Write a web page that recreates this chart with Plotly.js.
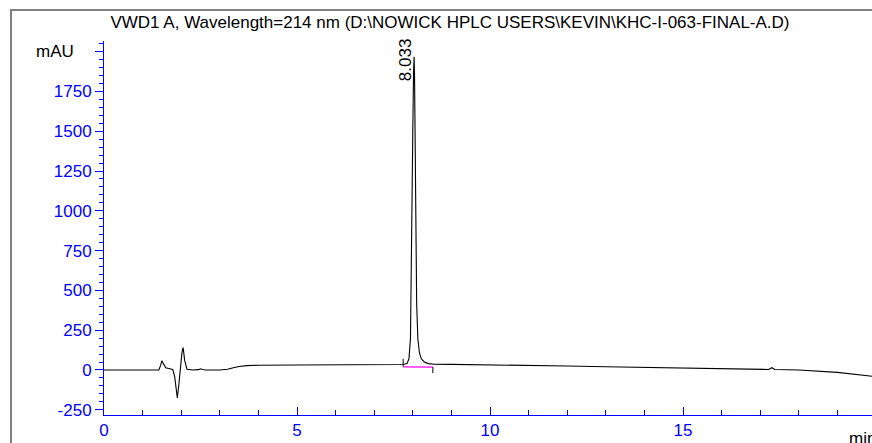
<!DOCTYPE html>
<html>
<head>
<meta charset="utf-8">
<script src="https://cdn.plot.ly/plotly-3.0.1.min.js"></script>
<style>
html,body{margin:0;padding:0;overflow:hidden;background:#fff;}
#wrap{position:relative;width:872px;height:443px;overflow:hidden;}
#frame{position:absolute;left:10px;top:9px;width:900px;height:500px;border-left:2px solid #808080;border-top:2px solid #808080;pointer-events:none;z-index:5;}
#chart{position:absolute;left:0;top:0;width:900px;height:443px;}
</style>
</head>
<body>
<div id="wrap"><div id="chart"></div><div id="frame"></div></div>
<script>
// Chromatogram signal (time in min, absorbance in mAU)
const timeMin = [0, 1.0, 1.3, 1.42, 1.47, 1.5, 1.55, 1.6, 1.7, 1.78, 1.83, 1.87, 1.9, 1.94, 1.98, 2.02, 2.05, 2.09, 2.15, 2.3, 2.45, 2.5, 2.55, 2.65, 3.0, 3.2, 3.35, 3.5, 3.7, 4.0, 5.0, 6.0, 7.0, 7.5, 7.75, 7.85, 7.9, 7.94, 7.97, 8.0, 8.02, 8.033, 8.045, 8.06, 8.08, 8.1, 8.13, 8.17, 8.22, 8.3, 8.4, 8.55, 9.0, 10, 11, 12, 13, 14, 15, 16, 17, 17.22, 17.3, 17.38, 18, 19, 20];
const signal  = [0, 0, -2, 0, 30, 58, 35, 14, 8, 3, -40, -120, -176, -90, 20, 110, 140, 60, 5, 0, 2, 7, 3, 0, 0, 4, 14, 22, 27, 30, 31, 32, 33, 33, 34, 40, 70, 200, 700, 1500, 1880, 1968, 1850, 1400, 800, 420, 200, 110, 70, 50, 40, 36, 35, 33, 30, 25, 20, 15, 11, 7, 4, 3, 14, 3, 0, -15, -42];
// Integration baseline and event marks
const baseTime = [7.75, 8.52];
const baseVal = [20, 18];
const startMarkTime = [7.75, 7.75];
const startMarkVal = [20, 70];
const endMarkTime = [8.52, 8.52];
const endMarkVal = [18, -20];
// Axis ticks
const yTickVals = [-250, 0, 250, 500, 750, 1000, 1250, 1500, 1750, 2000];
const yTickText = ['-250', '0', '250', '500', '750', '1000', '1250', '1500', '1750', ''];
const xTickVals = [0, 5, 10, 15, 20];
const xTickText = ['0', '5', '10', '15', ''];
const peakTime = 8.033;
const peakLabel = '8.033';
const yUnit = 'mAU';
const xUnit = 'min';
const titleText = 'VWD1 A, Wavelength=214 nm (D:\\NOWICK HPLC USERS\\KEVIN\\KHC-I-063-FINAL-A.D)';

const W = 900, H = 443;
const traces = [
  {x: timeMin, y: signal, mode: 'lines', line: {color: '#000', width: 1.1}, hoverinfo: 'skip'},
  {x: baseTime, y: baseVal, mode: 'lines', line: {color: '#ff00ff', width: 1.2}, hoverinfo: 'skip'},
  {x: startMarkTime, y: startMarkVal, mode: 'lines', line: {color: '#000', width: 1}, hoverinfo: 'skip'},
  {x: endMarkTime, y: endMarkVal, mode: 'lines', line: {color: '#000', width: 1}, hoverinfo: 'skip'}
];
const layout = {
  width: W, height: H,
  margin: {l: 104, r: W - 876.5, t: 41, b: 28, pad: 0},
  paper_bgcolor: '#fff', plot_bgcolor: '#fff',
  showlegend: false,
  font: {family: 'Liberation Sans, Arial, sans-serif', size: 17, color: '#0000ff'},
  title: {text: titleText, font: {size: 17, color: '#000', family: 'Liberation Sans, Arial, sans-serif'},
          xref: 'container', x: 450 / W, xanchor: 'center', yref: 'container', y: 1 - 22 / H, yanchor: 'middle'},
  xaxis: {range: [0, 20], showgrid: false, zeroline: false, showline: true, linecolor: '#0000ff', linewidth: 1,
          tickmode: 'array', tickvals: xTickVals, ticktext: xTickText, ticks: 'inside', ticklen: 8, tickcolor: '#0000ff', tickwidth: 1,
          minor: {dtick: 1, ticks: 'inside', ticklen: 5, tickcolor: '#0000ff', tickwidth: 1, showgrid: false},
          tickfont: {size: 17, color: '#0000ff'}, fixedrange: true},
  yaxis: {range: [-283, 2067], showgrid: false, zeroline: false, showline: true, linecolor: '#0000ff', linewidth: 1,
          tickmode: 'array', tickvals: yTickVals, ticktext: yTickText, ticks: 'outside', ticklen: 8, tickcolor: '#0000ff', tickwidth: 1,
          minor: {dtick: 50, ticks: 'outside', ticklen: 4, tickcolor: '#0000ff', tickwidth: 1, showgrid: false},
          tickfont: {size: 17, color: '#0000ff'}, fixedrange: true},
  annotations: [
    {x: peakTime, y: 1947, xref: 'x', yref: 'y', text: peakLabel, textangle: -90, showarrow: false,
     xanchor: 'center', yanchor: 'middle', xshift: -9, font: {size: 17, color: '#000'}},
    {x: 20, y: 0, xref: 'x', yref: 'paper', text: xUnit, showarrow: false, xanchor: 'right', yanchor: 'top',
     yshift: -12, xshift: 2, font: {size: 17, color: '#000'}},
    {x: 0, y: 2000, xref: 'paper', yref: 'y', text: yUnit, showarrow: false, xanchor: 'right', yanchor: 'middle',
     xshift: -28, font: {size: 17, color: '#000'}}
  ]
};
Plotly.newPlot('chart', traces, layout, {staticPlot: true, displayModeBar: false});
</script>
</body>
</html>
